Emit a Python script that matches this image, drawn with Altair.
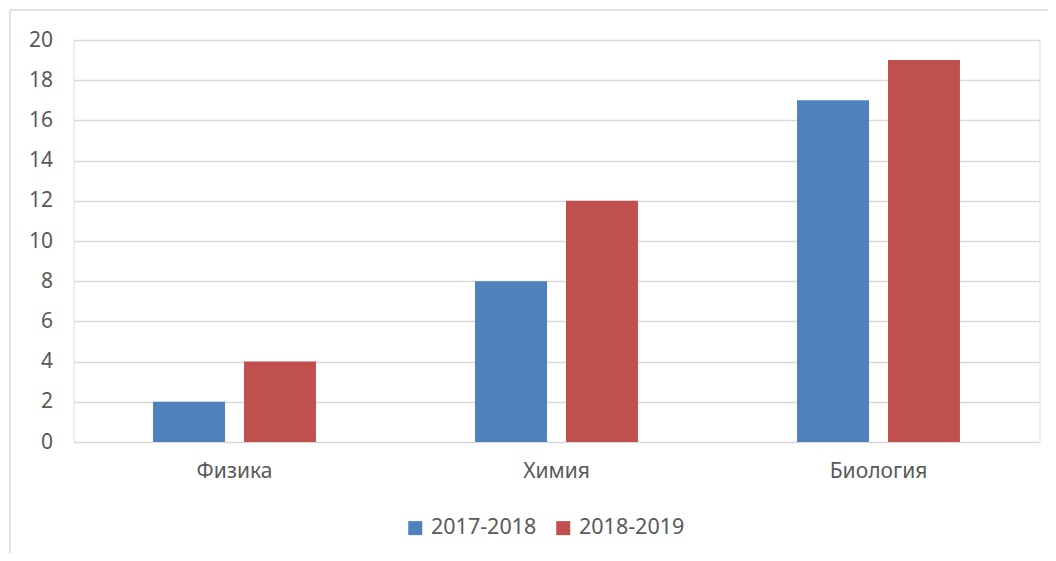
import altair as alt
import pandas as pd

subjects = ["Физика", "Химия", "Биология"]
years = ["2017-2018", "2018-2019"]
values_2017 = [2, 8, 17]
values_2018 = [4, 12, 19]
colors = ["#4F81BD", "#C0504D"]
y_ticks = [0, 2, 4, 6, 8, 10, 12, 14, 16, 18, 20]

rows = []
for s, a, b in zip(subjects, values_2017, values_2018):
    rows.append({"subject": s, "year": years[0], "value": a})
    rows.append({"subject": s, "year": years[1], "value": b})
df = pd.DataFrame(rows)

FONT = "Noto Sans"
TXT = "#595959"
GRID = "#D9D9D9"

bars = alt.Chart(df).mark_bar().encode(
    x=alt.X("subject:N", sort=subjects, title=None,
            scale=alt.Scale(paddingInner=0.494, paddingOuter=0.247),
            axis=alt.Axis(labelAngle=0, ticks=False, domain=False, labelPadding=18,
                          labelFontSize=21, labelColor=TXT, labelFont=FONT, grid=False)),
    xOffset=alt.XOffset("year:N", sort=years,
                        scale=alt.Scale(paddingInner=0.209, paddingOuter=0)),
    y=alt.Y("value:Q", title=None,
            scale=alt.Scale(domain=[0, 20], nice=False),
            axis=alt.Axis(values=y_ticks, ticks=False, domain=False, labelPadding=21,
                          labelFontSize=21, labelColor=TXT, labelFont=FONT,
                          grid=True, gridColor=GRID, gridWidth=1.5)),
    color=alt.Color("year:N", sort=years, title=None,
                    scale=alt.Scale(domain=years, range=colors),
                    legend=alt.Legend(orient="none", direction="horizontal",
                                      legendX=331, legendY=477,
                                      symbolType="square", symbolSize=196,
                                      symbolStrokeWidth=0, labelFontSize=21.5,
                                      labelColor=TXT, labelFont=FONT,
                                      labelOffset=5, columnPadding=16)),
)

frame_left = alt.Chart(alt.Data(values=[{}])).mark_rule(color=GRID, strokeWidth=1.5).encode(
    x=alt.value(-63.5), y=alt.value(-30), y2=alt.value(520)
)
frame_top = alt.Chart(alt.Data(values=[{}])).mark_rule(color=GRID, strokeWidth=1.5).encode(
    x=alt.value(-63.5), x2=alt.value(990), y=alt.value(-30)
)

chart = alt.layer(frame_left, frame_top, bars).properties(
    width=966, height=402,
    autosize=alt.AutoSizeParams(type="none"),
    padding={"left": 65.5, "top": 32, "right": 8.5, "bottom": 111},
).configure_view(stroke=None).configure(background="white")

chart.save("out.html", embed_options={"renderer": "svg", "actions": False})
